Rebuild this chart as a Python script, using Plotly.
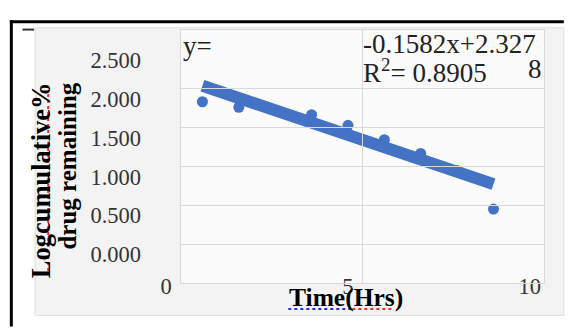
import plotly.graph_objects as go

# ---- data ----
time_hrs = [1, 2, 4, 5, 6, 7, 8, 9]
log_remaining = [1.964, 1.893, 1.798, 1.661, 1.476, 1.298, 1.08, 0.583]
slope = -0.1582
intercept = 2.3278
fit_x = [1, 9]
fit_y = [slope * v + intercept for v in fit_x]
x_ticks = [0, 5, 10]
y_ticks = [0, 0.5, 1.0, 1.5, 2.0, 2.5]

W, H = 569, 333


def X(px):
    return px / W


def Y(py):
    return 1 - py / H


BLUE = "#4472C4"
GRID = "#d9d9d9"
SERIF = "Liberation Serif"

fig = go.Figure()

# grid subplot (offset box)
fig.add_trace(go.Scatter(x=[None], y=[None], xaxis="x2", yaxis="y2", mode="markers",
                         showlegend=False, hoverinfo="skip"))

# data subplot
fig.add_trace(go.Scatter(
    x=time_hrs, y=log_remaining, mode="markers",
    marker=dict(color=BLUE, size=11), showlegend=False, cliponaxis=False,
))
fig.add_trace(go.Scatter(
    x=fit_x, y=fit_y, mode="lines",
    line=dict(color=BLUE, width=12), showlegend=False, cliponaxis=False,
))

shapes = [
    # chart area
    dict(type="rect", xref="paper", yref="paper", x0=X(30), x1=X(575), y0=Y(328), y1=Y(17),
         fillcolor="#f3f3f3", line=dict(color="#dedede", width=1), layer="below"),
    # plot area
    dict(type="rect", xref="paper", yref="paper", x0=X(180), x1=X(555), y0=Y(293), y1=Y(20),
         fillcolor="#fbfbfb", line=dict(width=0), layer="below"),
    # table borders
    dict(type="line", xref="paper", yref="paper", x0=X(4), x1=X(575), y0=Y(10.5), y1=Y(10.5),
         line=dict(color="black", width=3)),
    dict(type="line", xref="paper", yref="paper", x0=X(5.5), x1=X(5.5), y0=Y(9), y1=Y(340),
         line=dict(color="black", width=3)),
    dict(type="line", xref="paper", yref="paper", x0=X(17), x1=X(29), y0=Y(19), y1=Y(19),
         line=dict(color="#333333", width=2)),
    # spell-check squiggles
    dict(type="line", xref="paper", yref="paper", x0=X(43.5), x1=X(43.5), y0=Y(280), y1=Y(86),
         line=dict(color="#e83030", width=2, dash="dot")),
    dict(type="line", xref="paper", yref="paper", x0=X(291), x1=X(357), y0=Y(321), y1=Y(321),
         line=dict(color="#2a2ae0", width=2, dash="dot")),
    dict(type="line", xref="paper", yref="paper", x0=X(357), x1=X(398), y0=Y(321), y1=Y(321),
         line=dict(color="#e83030", width=2, dash="dot")),
]

eq_font = dict(family=SERIF, size=27, color="#222222")
annotations = [
    dict(text="y=", x=X(180), y=Y(37), xref="paper", yref="paper", xanchor="left", yanchor="middle",
         showarrow=False, font=eq_font),
    dict(text="-0.1582x+2.327", x=X(366), y=Y(35), xref="paper", yref="paper", xanchor="left",
         yanchor="middle", showarrow=False, font=eq_font),
    dict(text="R<sup>2</sup>= 0.8905", x=X(366), y=Y(64), xref="paper", yref="paper", xanchor="left",
         yanchor="middle", showarrow=False, font=eq_font),
    dict(text="8", x=X(545), y=Y(62), xref="paper", yref="paper", xanchor="center",
         yanchor="middle", showarrow=False, font=eq_font),
    dict(text="<b>Logcumulative%</b>", x=X(36), y=Y(182), xref="paper", yref="paper",
         xanchor="center", yanchor="middle", textangle=-90, showarrow=False,
         font=dict(family=SERIF, size=26.5, color="black")),
    dict(text="<b>drug remaining</b>", x=X(63), y=Y(167), xref="paper", yref="paper",
         xanchor="center", yanchor="middle", textangle=-90, showarrow=False,
         font=dict(family=SERIF, size=25, color="black")),
    dict(text="<b>Time(Hrs)</b>", x=X(350), y=Y(309), xref="paper", yref="paper",
         xanchor="center", yanchor="middle", showarrow=False,
         font=dict(family=SERIF, size=25.5, color="black")),
]

tick_font = dict(family=SERIF, size=22.5, color="#333333")

fig.update_layout(
    width=W, height=H,
    margin=dict(l=0, r=0, t=0, b=0),
    paper_bgcolor="white",
    plot_bgcolor="rgba(0,0,0,0)",
    shapes=shapes,
    annotations=annotations,
    showlegend=False,
    xaxis=dict(domain=[X(165), X(540)], range=[0, 10], anchor="y",
               tickvals=x_ticks, ticktext=[str(v) for v in x_ticks],
               showgrid=False, zeroline=False, showline=False, ticks="",
               tickfont=tick_font, ticklabelstandoff=16),
    yaxis=dict(domain=[Y(262), Y(52)], range=[0, 2.5], anchor="x",
               tickvals=y_ticks, tickformat=".3f",
               showgrid=False, zeroline=False, showline=False, ticks="",
               tickfont=tick_font, ticklabelstandoff=24),
    xaxis2=dict(domain=[X(180), X(555)], range=[0, 10], anchor="y2",
                tickvals=[5], showticklabels=False, showgrid=True, gridcolor=GRID, gridwidth=1,
                zeroline=False, showline=True, mirror=True, linecolor=GRID, linewidth=1, ticks=""),
    yaxis2=dict(domain=[Y(293), Y(20)], range=[0, 3.25], anchor="x2",
                tickvals=[0.5, 1.0, 1.5, 2.0, 2.5], showticklabels=False, showgrid=True,
                gridcolor=GRID, gridwidth=1,
                zeroline=False, showline=True, mirror=True, linecolor=GRID, linewidth=1, ticks=""),
)

fig.write_html("out.html")
